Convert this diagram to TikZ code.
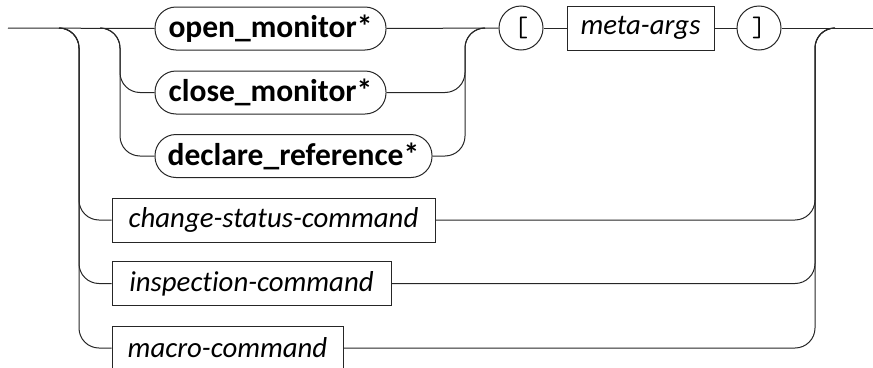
\documentclass[tikz,border=0pt]{standalone}
\usepackage{fontspec}
\setmainfont{Carlito}[Ligatures=NoCommon]
\begin{document}
\begin{tikzpicture}[x=1pt,y=-1pt,
  rail/.style={draw=black!85,line width=1pt,rounded corners=20pt},
  term/.style={draw=black!85,line width=1pt,rounded corners=21pt,minimum height=43pt,inner sep=0pt,font=\fontsize{31.5}{34}\selectfont\bfseries},
  nonterm/.style={draw=black!85,line width=1pt,minimum height=44pt,inner sep=0pt,font=\fontsize{28.8}{32}\selectfont\itshape},
  punct/.style={draw=black!85,line width=1pt,circle,minimum size=44pt,inner sep=0pt,font=\fontsize{28}{30}\selectfont\ttfamily}]
\useasboundingbox (0,0) rectangle (873,367);
\clip (0,0) rectangle (873,367);
% nodes
\node[term,minimum width=231pt] (om) at (270.5,28.5) {open\_monitor*};
\node[term,minimum width=231pt] (cm) at (270.5,92.5) {close\_monitor*};
\node[term,minimum width=277pt] (dr) at (293.5,156) {declare\_reference*};
\node[punct] (lb) at (521,28) {[};
\node[nonterm,minimum width=147pt] (ma) at (640.5,28) {meta-args};
\node[punct] (rb) at (759,28) {]};
\node[nonterm,minimum width=323pt] (cs) at (273.5,220) {change-status-command};
\node[nonterm,minimum width=279pt] (ic) at (251.5,283.5) {inspection-command};
\node[nonterm,minimum width=231pt] (mc) at (227.5,348) {macro-command};
% coordinates
\coordinate (s) at (8,28);
\coordinate (e) at (873,28);
\coordinate (b1) at (59,28);
\coordinate (L1) at (79,28);
\coordinate (b2) at (100,28);
\coordinate (L2) at (120,28);
\coordinate (R2) at (465,28);
\coordinate (e2) at (485,28);
\coordinate (R1) at (815,28);
\coordinate (e1) at (835,28);
% main line
\draw[rail] (s) -- (om.west);
\draw[rail] (om.east) -- (lb.west);
\draw[rail] (lb.east) -- (ma.west);
\draw[rail] (ma.east) -- (rb.west);
\draw[rail] (rb.east) -- (e);
% inner choice
\draw[rail] (b2) -- (L2) |- (cm.west);
\draw[rail] (b2) -- (L2) |- (dr.west);
\draw[rail] (cm.east) -| (R2) -- (e2);
\draw[rail] (dr.east) -| (R2) -- (e2);
% outer choice
\draw[rail] (b1) -- (L1) |- (cs.west);
\draw[rail] (b1) -- (L1) |- (ic.west);
\draw[rail] (b1) -- (L1) |- (mc.west);
\draw[rail] (cs.east) -| (R1) -- (e1);
\draw[rail] (ic.east) -| (R1) -- (e1);
\draw[rail] (mc.east) -| (R1) -- (e1);
\end{tikzpicture}
\end{document}
